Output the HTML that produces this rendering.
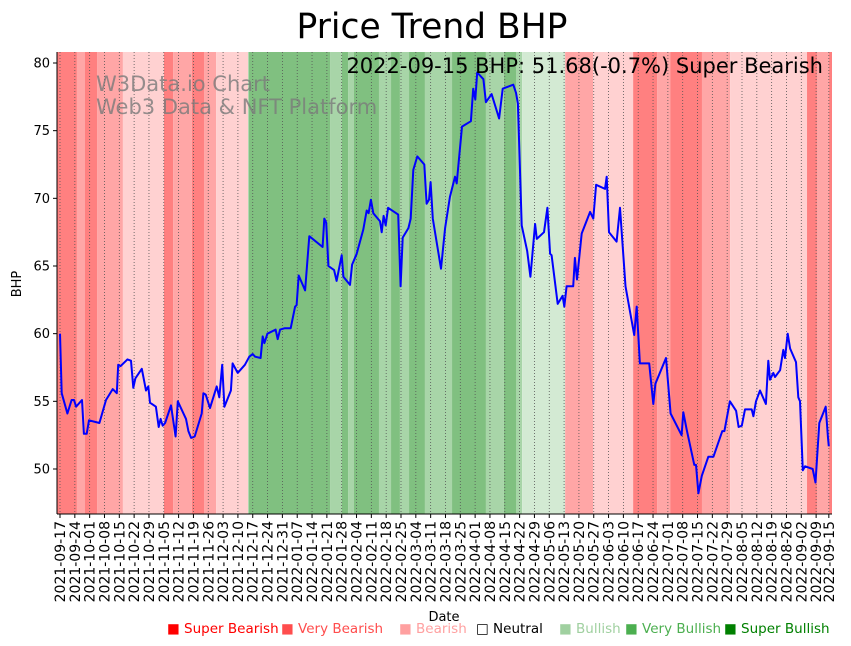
<!DOCTYPE html>
<html><head><meta charset="utf-8"><style>
body{margin:0;background:#fff;width:851px;height:646px;overflow:hidden;font-family:"Liberation Sans","DejaVu Sans",sans-serif}
svg{display:block}
</style></head><body>
<svg id="chart" width="851" height="646" xmlns="http://www.w3.org/2000/svg" font-family="DejaVu Sans, Liberation Sans, sans-serif">
<text x="432" y="38" font-size="34.5" text-anchor="middle">Price Trend BHP</text>
<g id="bands"></g>
<g id="grid"></g>
<g fill="#7a7a7a" fill-opacity="0.8" font-size="21">
<text x="96" y="91">W3Data.io Chart</text><text x="96" y="114">Web3 Data &amp; NFT Platform</text></g>
<path id="line" fill="none" stroke="#0000ff" stroke-width="2" stroke-linejoin="round"/>
<text x="823" y="73" font-size="21" text-anchor="end">2022-09-15 BHP: 51.68(-0.7%) Super Bearish</text>
<g id="axes"></g>
<text transform="translate(21,284) rotate(-90)" font-size="13" text-anchor="middle">BHP</text>
<text x="444" y="621" font-size="13" text-anchor="middle">Date</text>
<g font-size="13.5">
<text x="167" y="633" fill="#ff0000">■ Super Bearish</text>
<text x="281" y="633" fill="#ff4d4d">■ Very Bearish</text>
<text x="399" y="633" fill="#ffa0a0">■ Bearish</text>
<text x="476" y="633" fill="#000">□ Neutral</text>
<text x="559" y="633" fill="#a0d0a0">■ Bullish</text>
<text x="625" y="633" fill="#4caf50">■ Very Bullish</text>
<text x="724" y="633" fill="#008000">■ Super Bullish</text>
</g>
</svg>
<script>
const dayOffsets=[0,0.8,3.5,5.5,6.6,7.6,10.4,11.3,12.6,13.7,18.6,21.7,24.9,26.8,27.5,28.6,31.8,33.5,34.6,35.6,38.6,40.6,41.7,42.5,45.3,46.6,47.5,48.5,49.6,52.4,54.6,55.6,59.5,60.6,61.9,63.6,66.9,67.7,68.8,70.8,74.0,75.2,76.6,77.6,80.7,81.5,83.9,87.3,89.4,91.0,92.1,94.7,95.7,96.5,97.9,101.8,102.8,103.9,106.2,108.9,111.0,111.7,112.7,115.7,117.7,124.0,124.8,125.7,126.7,129.4,130.6,133.0,133.8,136.9,137.9,140.1,143.2,144.8,145.7,146.8,147.9,151.1,151.9,152.8,153.8,154.9,159.7,160.8,161.8,164.5,165.6,166.8,168.7,172.0,173.1,174.2,175.0,176.0,179.9,181.8,184.1,186.5,187.3,189.8,194.0,195.1,196.1,197.0,199.9,201.1,203.8,207.3,209.0,214.0,215.3,216.2,218.0,220.6,222.1,224.3,225.1,228.5,230.1,231.4,232.1,235.0,237.3,238.1,239.2,242.3,243.1,244.1,246.3,250.3,251.8,253.1,257.3,258.1,259.2,262.8,264.4,267.0,271.1,272.3,273.8,278.2,280.1,281.1,286.1,288.3,293.5,294.3,295.9,299.5,300.3,301.4,303.0,306.1,308.5,312.7,313.7,316.3,319.2,320.4,321.9,323.4,326.6,327.4,328.6,330.5,333.3,334.4,335.2,336.8,337.6,340.0,341.5,342.3,343.6,344.7,347.5,348.6,349.4,350.7,351.8,355.4,356.7,358.5,361.5,362.6,363];
const prices=[60.0,55.6,54.1,55.1,55.1,54.6,55.1,52.6,52.6,53.6,53.4,55.1,55.9,55.6,57.7,57.6,58.1,58.0,56.0,56.7,57.4,55.8,56.1,54.9,54.6,53.1,53.7,53.2,53.4,54.7,52.4,55.0,53.7,52.8,52.3,52.4,54.1,55.6,55.5,54.5,56.1,55.3,57.7,54.6,55.8,57.8,57.1,57.7,58.3,58.5,58.3,58.2,59.8,59.3,60.0,60.3,59.6,60.3,60.4,60.4,62.0,62.1,64.3,63.2,67.2,66.4,68.5,68.2,65.0,64.7,63.9,65.8,64.2,63.6,65.1,65.9,67.7,69.1,68.9,69.9,68.9,68.3,67.5,68.7,68.0,69.3,68.8,63.5,67.1,67.8,68.5,72.1,73.1,72.5,69.6,69.9,71.2,68.5,64.8,67.8,70.1,71.6,71.1,75.3,75.7,78.1,77.3,79.3,78.8,77.1,77.7,75.9,78.1,78.4,77.8,77.0,68.0,66.1,64.2,68.1,67.0,67.5,69.3,65.9,65.8,62.2,62.8,62.0,63.5,63.5,65.6,64.0,67.4,69.0,68.5,71.0,70.7,71.6,67.5,66.8,69.3,63.5,59.9,62.0,57.8,57.8,54.8,56.3,58.2,54.1,52.5,54.2,52.9,50.3,50.3,48.2,49.5,50.9,50.9,52.8,52.8,55.0,54.3,53.1,53.2,54.4,54.4,53.9,55.0,55.8,54.8,58.0,56.6,57.1,56.8,57.3,58.8,58.2,60.0,58.9,57.9,55.3,55.0,49.9,50.2,50.0,49.0,53.4,54.6,52.3,51.68];
const bandStarts=[-2,8,11.8,17.5,29.7,49.1,53.4,62.3,68,73.7,88.8,89.2,127.5,133.1,136,138.8,150.6,156.3,160.5,164.8,172.3,185.1,201.1,209.6,215.3,218.2,238.5,251.7,270.6,281.9,288.1,303.1,316.4,352.7,357.4,363.1];
const bandLevels=[-3,-2,-3,-2,-1,-3,-2,-3,-2,-1,2,3,2,3,2,3,2,3,2,3,2,3,2,3,2,1,-2,-1,-3,-2,-3,-2,-1,-3,-2,-3];
const yTicks=[50,55,60,65,70,75,80];
const tickDays=[];for(let d=0;d<=357;d+=7)tickDays.push(d);tickDays.push(363);
const startDate=new Date(Date.UTC(2021,8,17));
const NS="http://www.w3.org/2000/svg";
const L=57,R=832,T=52,B=514;
function xs(d){return 60+d*2.118;}
function ys(v){return 63+(80-v)*13.533;}
const levelColor={"-3":"#ff8080","-2":"#ffa6a6","-1":"#ffd1d1","1":"#d3ead3","2":"#a8d5a8","3":"#80c080"};
function mk(tag,attrs,parent){const e=document.createElementNS(NS,tag);for(const k in attrs)e.setAttribute(k,attrs[k]);parent.appendChild(e);return e;}
const bands=document.getElementById('bands');
for(let i=0;i<bandStarts.length;i++){
 const x0=Math.max(L,xs(bandStarts[i]));
 const x1=Math.min(R,i+1<bandStarts.length?xs(bandStarts[i+1]):R);
 const r=mk('rect',{x:x0,y:T,width:Math.max(0,x1-x0),height:B-T,fill:levelColor[bandLevels[i]]},bands);
 
 
}
const grid=document.getElementById('grid'),axes=document.getElementById('axes');
tickDays.forEach(d=>{
 const x=xs(d);
 const g=mk('line',{x1:x,x2:x,y1:T,y2:B,stroke:'#555','stroke-width':0.8,'stroke-dasharray':'1,2'},grid);
 
 
 mk('line',{x1:x,x2:x,y1:B,y2:B+4,stroke:'#000'},axes);
 const dt=new Date(startDate.getTime()+d*86400000);
 const s=dt.toISOString().slice(0,10);
 const t=mk('text',{transform:`translate(${x+5},${B+7}) rotate(-90)`,'font-size':14,'text-anchor':'end'},axes);
 t.textContent=s;
 
 
});
yTicks.forEach(v=>{
 const y=ys(v);
 mk('line',{x1:L-4,x2:L,y1:y,y2:y,stroke:'#000'},axes);
 const t=mk('text',{x:L-7,y:y+4.5,'font-size':13,'text-anchor':'end'},axes);
 t.textContent=v;
 
 
});
mk('line',{x1:L,x2:L,y1:T,y2:B,stroke:'#000','stroke-width':1},axes);
mk('line',{x1:L,x2:R,y1:B,y2:B,stroke:'#000','stroke-width':1},axes);
let p='';
dayOffsets.forEach((d,i)=>{p+=(i?'L':'M')+xs(d).toFixed(1)+','+ys(prices[i]).toFixed(1);});
document.getElementById('line').setAttribute('d',p);
</script>
</body></html>
